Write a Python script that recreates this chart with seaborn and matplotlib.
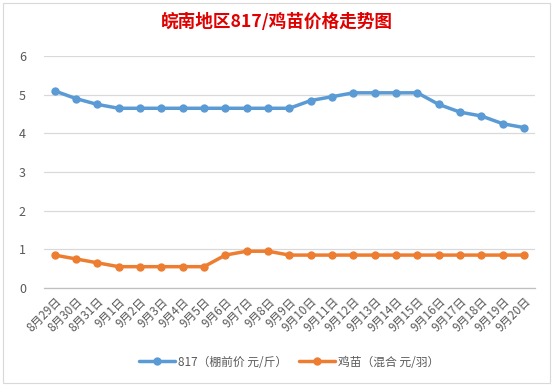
import pandas as pd
import matplotlib
matplotlib.use("Agg")
import matplotlib.pyplot as plt
import seaborn as sns

# data
dates = ["8月29日", "8月30日", "8月31日", "9月1日", "9月2日", "9月3日", "9月4日",
         "9月5日", "9月6日", "9月7日", "9月8日", "9月9日", "9月10日", "9月11日",
         "9月12日", "9月13日", "9月14日", "9月15日", "9月16日", "9月17日",
         "9月18日", "9月19日", "9月20日"]
price_817 = [5.1, 4.9, 4.75, 4.65, 4.65, 4.65, 4.65, 4.65, 4.65, 4.65, 4.65, 4.65,
             4.85, 4.95, 5.05, 5.05, 5.05, 5.05, 4.75, 4.55, 4.45, 4.25, 4.15]
price_chick = [0.85, 0.75, 0.65, 0.55, 0.55, 0.55, 0.55, 0.55, 0.85, 0.95, 0.95, 0.85,
               0.85, 0.85, 0.85, 0.85, 0.85, 0.85, 0.85, 0.85, 0.85, 0.85, 0.85]
series_names = ["817（棚前价 元/斤）", "鸡苗（混合 元/羽）"]
y_ticks = [0, 1, 2, 3, 4, 5, 6]

sns.set_style("white")
plt.rcParams['font.family'] = ['Noto Sans CJK SC', 'DejaVu Sans']

df = pd.DataFrame({
    "idx": list(range(len(dates))) * 2,
    "value": price_817 + price_chick,
    "series": [series_names[0]] * len(dates) + [series_names[1]] * len(dates),
})

fig = plt.figure(figsize=(5.53, 3.87), dpi=100)
ax = fig.add_axes([0.0796, 0.256, 0.8874, 0.599])

sns.lineplot(data=df, x="idx", y="value", hue="series",
             palette=["#5B9BD5", "#ED7D31"], marker="o", markersize=6,
             markeredgewidth=0, linewidth=2.5, ax=ax)

ax.set_xlim(-0.5, len(dates) - 0.5)
ax.set_ylim(0, 6)
ax.set_yticks(y_ticks)
ax.set_xticks(range(len(dates)))
ax.set_xticklabels(dates, rotation=45, ha="right", rotation_mode="anchor",
                   fontsize=8.5, color="#595959")
ax.set_xticks([i - 0.5 for i in range(len(dates) + 1)], minor=True)
ax.tick_params(axis="x", which="major", length=0, pad=5)
ax.tick_params(axis="x", which="minor", length=4, color="#BFBFBF", width=0.8)
ax.tick_params(axis="y", length=0, labelsize=9, labelcolor="#595959", pad=13)
ax.set_xlabel("")
ax.set_ylabel("")
ax.yaxis.grid(True, color="#D9D9D9", linewidth=0.9)
ax.set_axisbelow(True)
for s in ["top", "right", "left"]:
    ax.spines[s].set_visible(False)
ax.spines["bottom"].set_color("#BFBFBF")
ax.spines["bottom"].set_linewidth(0.9)

leg = ax.legend(loc="center", bbox_to_anchor=(0.5, -0.32), ncol=2, frameon=False,
                fontsize=8.5, handlelength=3, columnspacing=1.0, handletextpad=0.3)
for t in leg.get_texts():
    t.set_color("#595959")

fig.text(0.5, 0.943, "皖南地区817/鸡苗价格走势图", ha="center", va="center",
         fontsize=12.7, fontweight="bold", color="#E00000")

# chart border
fig.patches.append(plt.Rectangle((0.006, 0.01), 0.988, 0.982, transform=fig.transFigure,
                                 fill=False, edgecolor="#D9D9D9", linewidth=0.8))

fig.savefig("out.png", dpi=100)
